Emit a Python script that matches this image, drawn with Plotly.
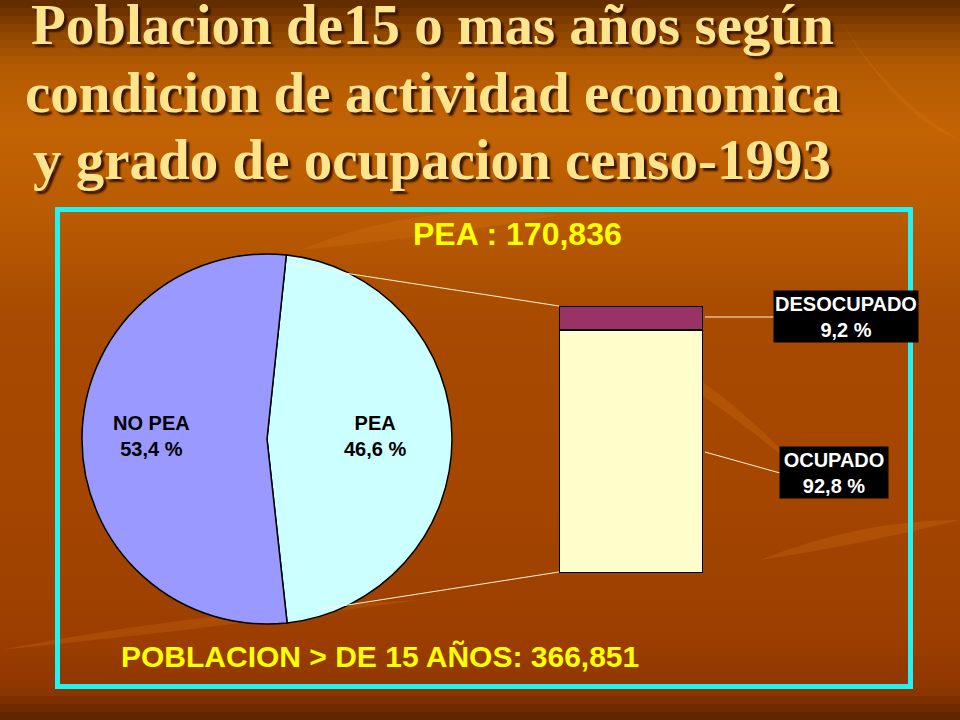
import plotly.graph_objects as go

# ---- data ----
pie_labels = ["PEA", "NO PEA"]
pie_values = [46.6, 53.4]
pie_text = ["PEA<br>46,6 %", "NO PEA<br>53,4 %"]

bar_labels = ["OCUPADO", "DESOCUPADO"]
bar_values = [92.8, 9.2]
bar_text = ["OCUPADO<br>92,8 %", "DESOCUPADO<br>9,2 %"]

title_lines = ["Poblacion de15 o mas años según",
               "condicion de actividad economica",
               "y grado de ocupacion censo-1993"]
pea_total_text = "PEA : 170,836"
pob_total_text = "POBLACION > DE 15 AÑOS: 366,851"

W, H = 960, 720
def px(x):
    return x / W
def py(y):
    return 1 - y / H

fig = go.Figure()

# pie
fig.add_trace(go.Pie(
    labels=pie_labels, values=pie_values, sort=False, direction="clockwise",
    rotation=6, textinfo="none", hoverinfo="label+percent",
    marker=dict(colors=["#CCFFFF", "#9999FF"], line=dict(color="black", width=1.5)),
    domain=dict(x=[px(267 - 185), px(267 + 185)], y=[py(439 + 185), py(439 - 185)]),
    showlegend=False,
))

# stacked bar
bar_colors = ["#FFFFCC", "#993366"]
for lab, val, col in zip(bar_labels, bar_values, bar_colors):
    fig.add_trace(go.Bar(
        x=[0], y=[val], name=lab, width=1,
        marker=dict(color=col, line=dict(color="black", width=2)),
        showlegend=False, hoverinfo="name+y",
    ))

fig.update_layout(
    width=W, height=H, margin=dict(l=0, r=0, t=0, b=0),
    barmode="stack",
    paper_bgcolor="#A84A00", plot_bgcolor="rgba(0,0,0,0)",
    xaxis=dict(domain=[px(559), px(703)], range=[-0.5, 0.5], visible=False, fixedrange=True),
    yaxis=dict(domain=[py(573), py(306)], range=[0, sum(bar_values)], visible=False, fixedrange=True),
    bargap=0,
)

# background gradient (decoration)
stops = [(0, (0x5E, 0x2A, 0x00)), (30, (0x8C, 0x44, 0x00)), (65, (0xB2, 0x5A, 0x02)),
         (130, (0xC2, 0x63, 0x04)), (220, (0xB8, 0x5A, 0x02)), (320, (0xA8, 0x4A, 0x00)),
         (500, (0xA4, 0x46, 0x00)), (640, (0x9C, 0x3E, 0x00)), (690, (0x8E, 0x36, 0x00)),
         (720, (0x5C, 0x22, 0x00))]
def col_at(y):
    for (y0, c0), (y1, c1) in zip(stops[:-1], stops[1:]):
        if y0 <= y <= y1:
            t = (y - y0) / (y1 - y0)
            return "rgb(%d,%d,%d)" % tuple(round(a + (b - a) * t) for a, b in zip(c0, c1))
    return "rgb(92,34,0)"
shapes = []
step = 8
for y in range(0, H, step):
    shapes.append(dict(type="rect", xref="paper", yref="paper", x0=0, x1=1,
                       y0=py(y + step), y1=py(y), fillcolor=col_at(y + step / 2),
                       line=dict(width=0), layer="below"))

# subtle leaf-like streaks (decoration)
leaf_paths = [
    "M 300,250 Q 420,200 560,215 Q 450,235 300,250 Z",
    "M 760,560 Q 860,520 960,520 Q 860,545 760,560 Z",
    "M 600,330 Q 700,360 800,470 Q 690,380 600,330 Z",
    "M 0,650 Q 200,610 420,600 Q 200,630 0,650 Z",
    "M 840,20 Q 900,120 960,140 Q 890,100 840,20 Z",
]
for p in leaf_paths:
    shapes.append(dict(type="path", xref="paper", yref="paper",
                       path=" ".join(
                           tok if tok.isalpha() else
                           ",".join([str(px(float(tok.split(",")[0]))), str(py(float(tok.split(",")[1])))])
                           for tok in p.split()),
                       fillcolor="rgba(230,130,30,0.2)", line=dict(width=0), layer="below"))

# frame
shapes.append(dict(type="rect", xref="paper", yref="paper", x0=px(57.5), x1=px(910.5),
                   y0=py(686.5), y1=py(209.5), line=dict(color="#22F2F2", width=5),
                   fillcolor="rgba(0,0,0,0)", layer="above"))

# connector lines
line_col = "#FFF3DC"
for (x0, y0, x1, y1) in [(286, 264, 559, 306), (322, 609, 559, 572),
                         (705, 317, 774, 317), (705, 452, 780, 473)]:
    shapes.append(dict(type="line", xref="paper", yref="paper", x0=px(x0), y0=py(y0),
                       x1=px(x1), y1=py(y1), line=dict(color=line_col, width=1)))
fig.update_layout(shapes=shapes)

ann = []
# title
for line, yc in zip(title_lines, [25, 92, 159]):
    ann.append(dict(text="<b>" + line + "</b>", x=px(432), y=py(yc), xref="paper", yref="paper",
                    xanchor="center", yanchor="middle", showarrow=False, align="center",
                    font=dict(family="Liberation Serif", size=57, color="#FFE48E",
                              shadow="3px 3px 2px #3A1600")))
# totals
ann.append(dict(text="<b>" + pea_total_text + "</b>", x=px(517), y=py(234), xref="paper", yref="paper",
                xanchor="center", yanchor="middle",
                showarrow=False, font=dict(family="Liberation Sans", size=32, color="#FFFF00")))
ann.append(dict(text="<b>" + pob_total_text + "</b>", x=px(380), y=py(656), xref="paper", yref="paper",
                xanchor="center", yanchor="middle",
                showarrow=False, font=dict(family="Liberation Sans", size=30, color="#FFFF00")))
# pie labels
ann.append(dict(text="<b>" + pie_text[1] + "</b>", x=px(151), y=py(436), xref="paper", yref="paper",
                xanchor="center", yanchor="middle",
                showarrow=False, align="center", font=dict(family="Liberation Sans", size=20, color="black")))
ann.append(dict(text="<b>" + pie_text[0] + "</b>", x=px(375), y=py(436), xref="paper", yref="paper",
                xanchor="center", yanchor="middle",
                showarrow=False, align="center", font=dict(family="Liberation Sans", size=20, color="black")))
# bar labels
ann.append(dict(text="<b>" + bar_text[1] + "</b>", x=px(846), y=py(316.5), xref="paper", yref="paper",
                xanchor="center", yanchor="middle",
                showarrow=False, align="center", bgcolor="black", width=142, height=49, borderpad=1,
                font=dict(family="Liberation Sans", size=20, color="white")))
ann.append(dict(text="<b>" + bar_text[0] + "</b>", x=px(834), y=py(472.5), xref="paper", yref="paper",
                xanchor="center", yanchor="middle",
                showarrow=False, align="center", bgcolor="black", width=106, height=49, borderpad=1,
                font=dict(family="Liberation Sans", size=20, color="white")))
fig.update_layout(annotations=ann)

fig.write_html("out.html", config={"displayModeBar": False},
               post_script="document.body.style.margin='0';document.body.style.padding='0';"
                           "document.body.style.overflow='hidden';")
